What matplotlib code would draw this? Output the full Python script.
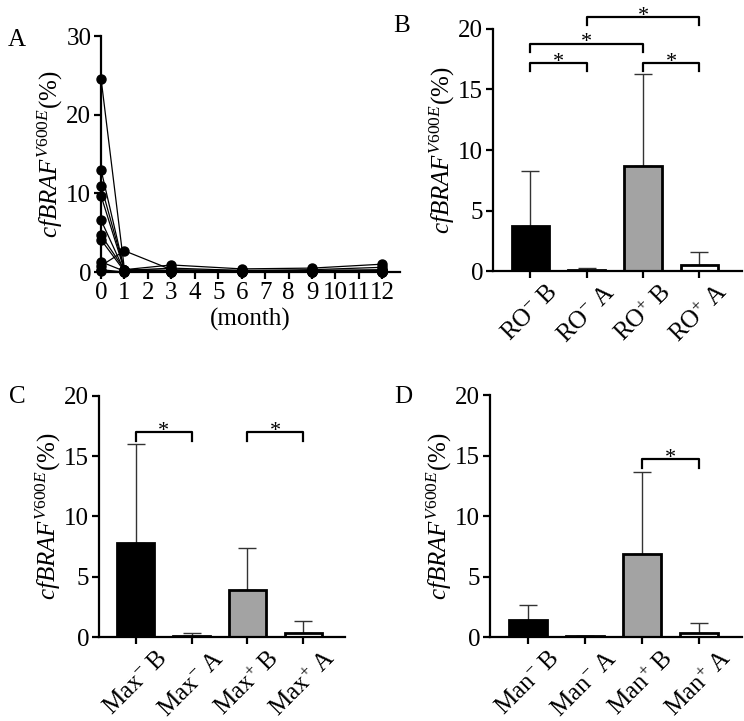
import numpy as np
import matplotlib
matplotlib.use("Agg")
import matplotlib.pyplot as plt

plt.rcParams['font.family'] = ['Liberation Serif', 'DejaVu Serif']
plt.rcParams['mathtext.fontset'] = 'custom'
plt.rcParams['mathtext.rm'] = 'Liberation Serif'
plt.rcParams['mathtext.it'] = 'Liberation Serif:italic'
plt.rcParams['font.size'] = 18

# panel A: individual patients over time
months = [0, 1, 3, 6, 9, 12]
patients = [
    [24.6, 0.3, 0.2, 0.1, 0.1, 0.1],
    [13.0, 0.2, 0.1, 0.1, 0.2, 0.3],
    [11.0, 0.3, 0.9, 0.4, 0.5, 1.0],
    [9.7, 0.2, 0.5, 0.2, 0.3, 0.6],
    [6.6, 0.1, 0.1, 0.0, 0.1, 0.0],
    [4.7, 0.3, 0.2, 0.1, 0.2, 0.2],
    [4.1, 0.1, 0.0, 0.0, 0.0, 0.1],
    [1.3, 0.1, 0.1, 0.1, 0.0, 0.0],
    [0.8, 2.7, 0.3, 0.2, 0.1, 0.1],
    [0.3, 0.0, 0.0, 0.0, 0.0, 0.0],
    [0.1, 0.0, 0.0, 0.1, 0.1, 0.0],
]

# panels B-D: mean and upper SD
ro_labels = ['RO$^{-}$ B', 'RO$^{-}$ A', 'RO$^{+}$ B', 'RO$^{+}$ A']
ro_mean = [3.7, 0.05, 8.7, 0.5]
ro_sd = [4.6, 0.2, 7.6, 1.05]

max_labels = ['Max$^{-}$ B', 'Max$^{-}$ A', 'Max$^{+}$ B', 'Max$^{+}$ A']
max_mean = [7.8, 0.1, 3.9, 0.3]
max_sd = [8.2, 0.25, 3.5, 1.0]

man_labels = ['Man$^{-}$ B', 'Man$^{-}$ A', 'Man$^{+}$ B', 'Man$^{+}$ A']
man_mean = [1.4, 0.1, 6.9, 0.3]
man_sd = [1.25, 0.02, 6.7, 0.85]

bar_colors = ['black', 'white', '#a3a3a3', 'white']

# significance brackets: (left, right, height)
ro_sig = [(0, 1, 17.2), (0, 2, 18.8), (1, 3, 21.0), (2, 3, 17.2)]
max_sig = [(0, 1, 17.0), (2, 3, 17.0)]
man_sig = [(2, 3, 14.7)]

ylab = r'$\mathit{cfBRAF}^{\mathit{V600E}}$(%)'


def style(ax):
    for s in ['top', 'right']:
        ax.spines[s].set_visible(False)
    for s in ['left', 'bottom']:
        ax.spines[s].set_linewidth(1.6)
    ax.tick_params(width=1.6, length=5, pad=2)


def bar_panel(ax, labels, mean, sd, sig):
    x = np.arange(len(labels))
    ax.bar(x, mean, width=0.66, color=bar_colors, edgecolor='black',
           linewidth=2, zorder=2)
    ax.errorbar(x, mean, yerr=[np.zeros(len(sd)), sd], fmt='none',
                ecolor='#333333', elinewidth=1.0, capsize=6.8,
                capthick=1.0, zorder=1)
    for a, b, h in sig:
        ax.plot([a, a, b, b], [h - 0.7, h, h, h - 0.7], color='black',
                lw=1.6, clip_on=False)
        ax.text((a + b) / 2, h - 0.3, '*', ha='center', va='baseline',
                fontsize=16, clip_on=False)
    ax.set_xlim(-0.66, 3.75)
    ax.set_ylim(0, 20)
    ax.set_yticks([0, 5, 10, 15, 20])
    ax.set_xticks(x)
    ax.set_xticklabels(labels, rotation=45, ha='center', va='top')
    ax.set_ylabel(ylab, labelpad=1)
    style(ax)


fig = plt.figure(figsize=(7.44, 7.21), dpi=100)

axA = fig.add_axes([0.1358, 0.6227, 0.4018, 0.3273])
for p in patients:
    axA.plot(months, p, color='black', lw=0.9, marker='o', markersize=6.5,
             clip_on=False)
axA.set_xlim(0, 12.75)
axA.set_ylim(0, 30)
axA.set_xticks(range(13))
axA.set_yticks([0, 10, 20, 30])
axA.set_xlabel('(month)', labelpad=3)
axA.set_ylabel(ylab, labelpad=1)
style(axA)

axB = fig.add_axes([0.6626, 0.6241, 0.3344, 0.3357])
bar_panel(axB, ro_labels, ro_mean, ro_sd, ro_sig)

axC = fig.add_axes([0.1330, 0.1165, 0.3307, 0.3343])
bar_panel(axC, max_labels, max_mean, max_sd, max_sig)

axD = fig.add_axes([0.6586, 0.1165, 0.3384, 0.3356])
bar_panel(axD, man_labels, man_mean, man_sd, man_sig)

for lbl, xp, yp in [('A', 17, 40), ('B', 402, 26), ('C', 17, 397), ('D', 403, 397)]:
    fig.text(xp / 744, 1 - yp / 721, lbl, ha='center', va='center', fontsize=18)

fig.savefig('out.png', dpi=100)
